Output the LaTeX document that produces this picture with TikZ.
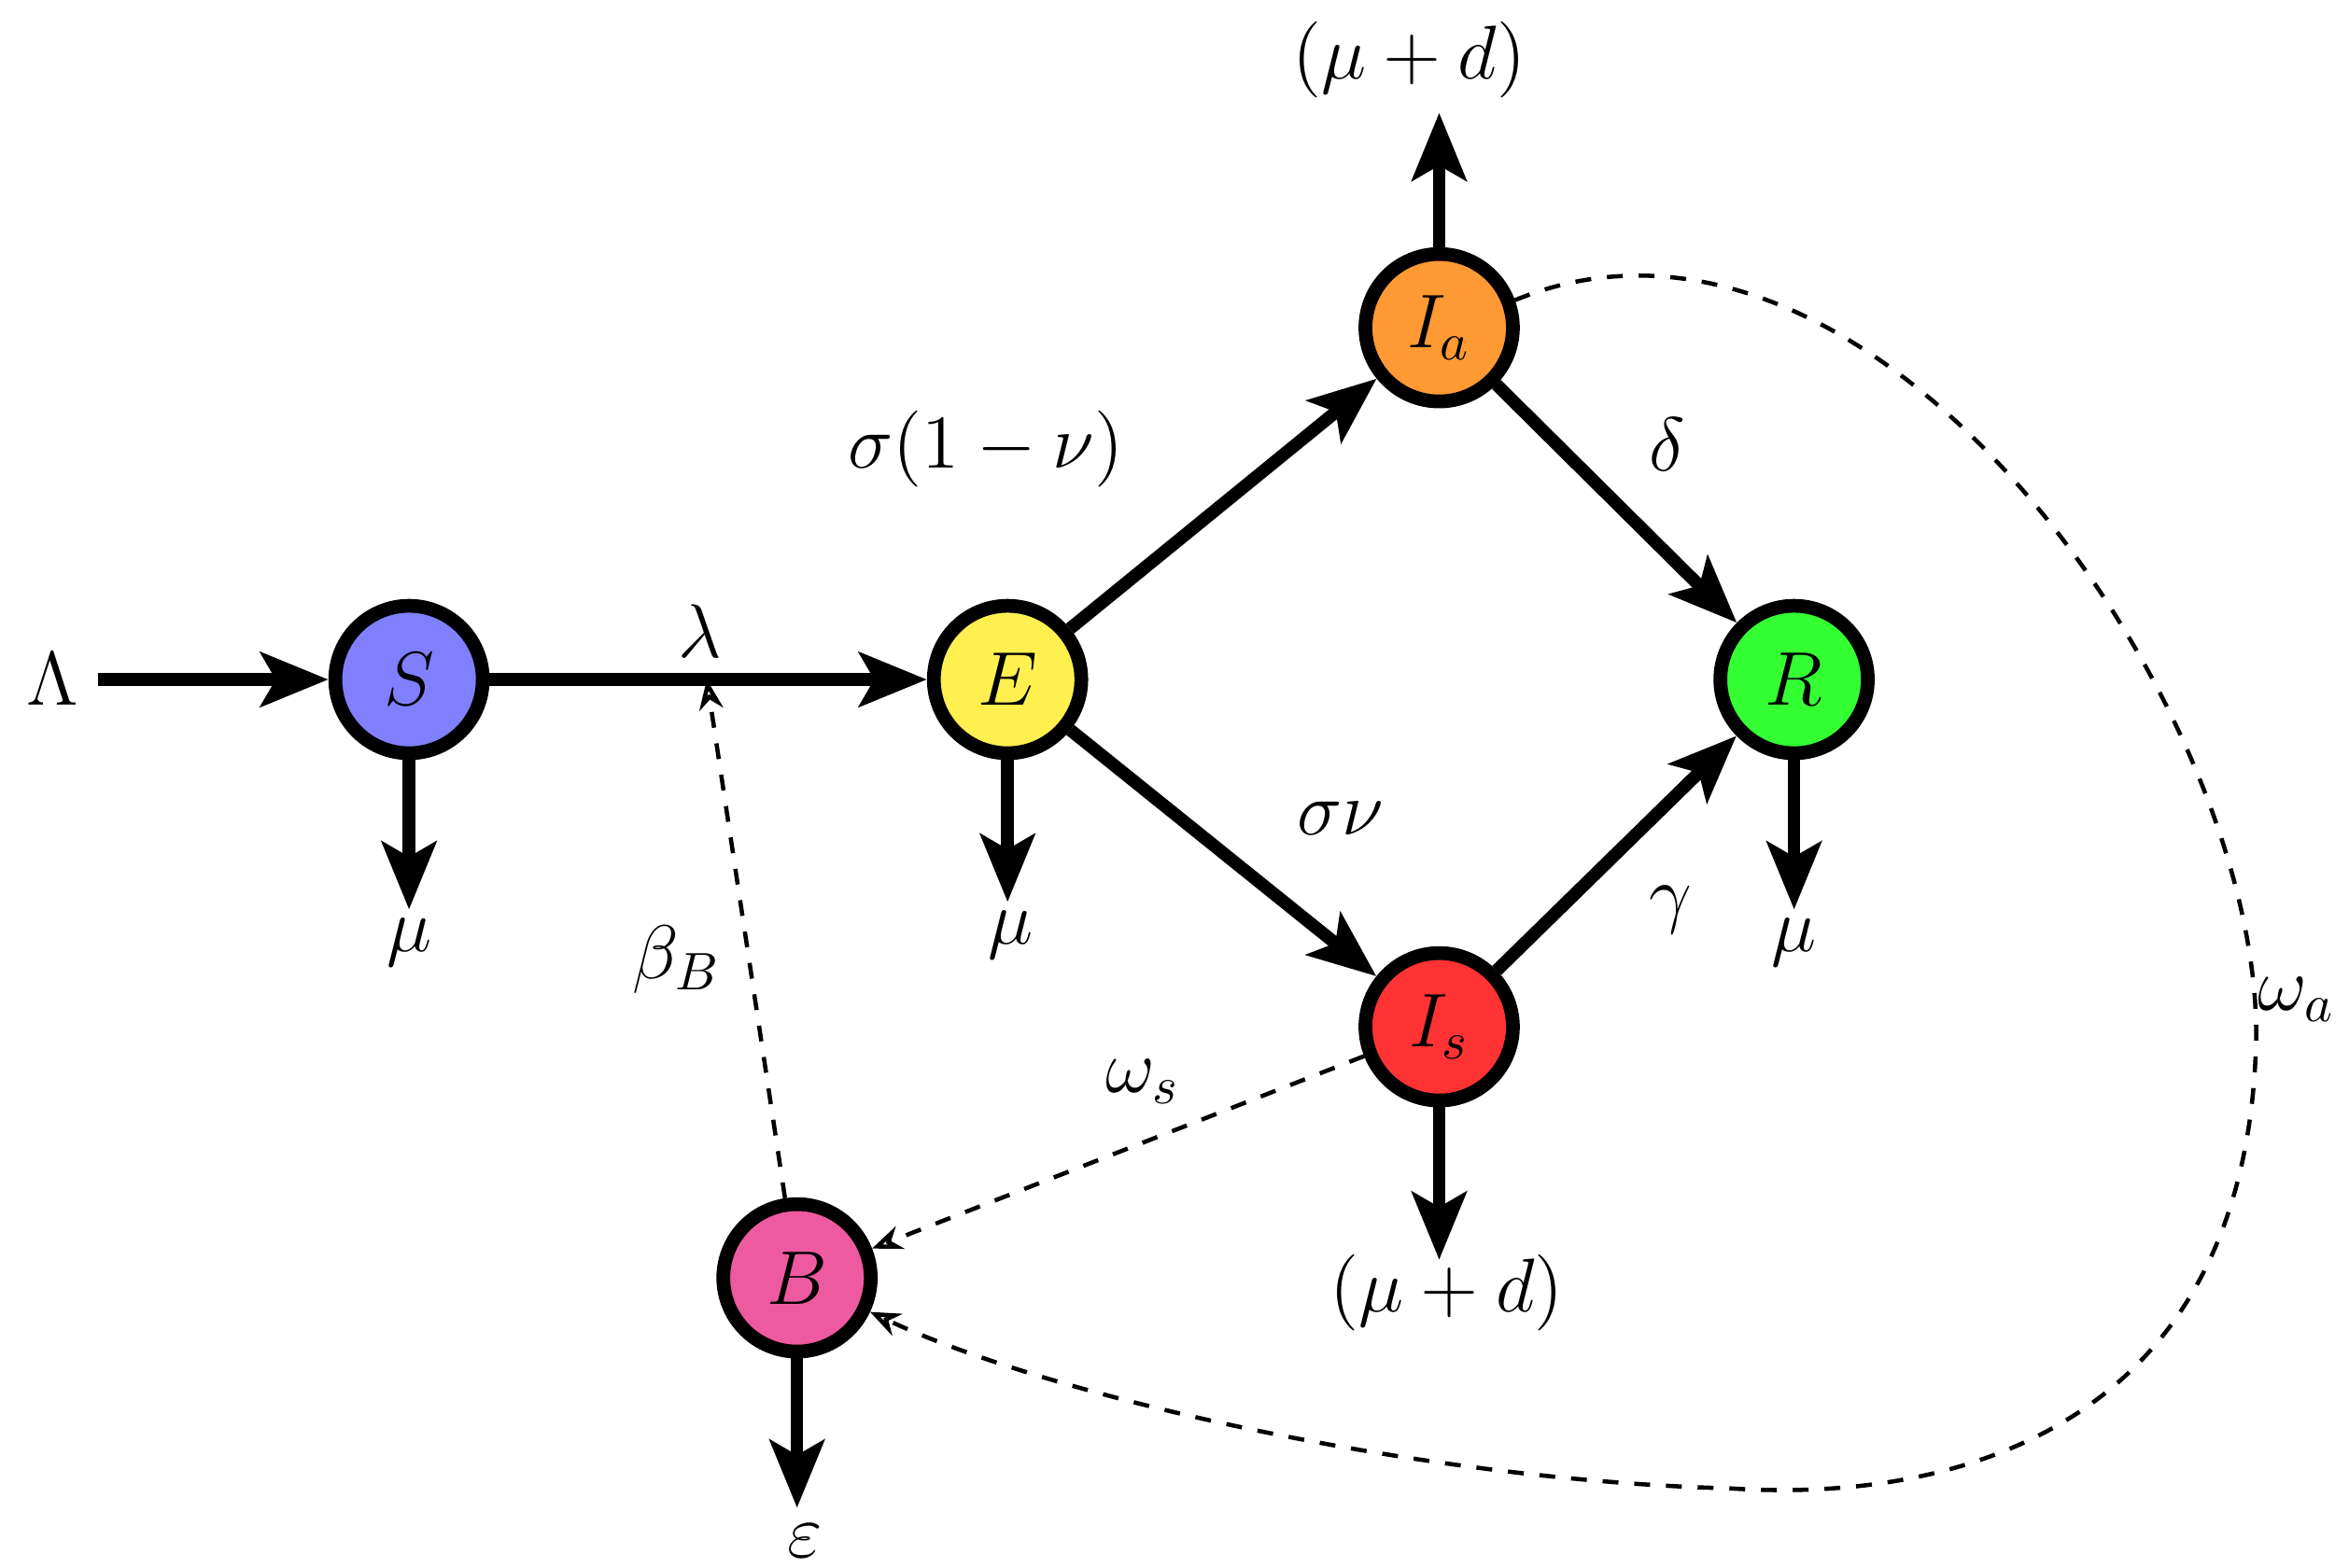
\documentclass[tikz,border=0pt]{standalone}
\usetikzlibrary{arrows.meta}
\begin{document}
\begin{tikzpicture}[x=0.01cm,y=-0.01cm,font=\fontsize{14}{16}\selectfont,
  comp/.style={circle,draw=black,line width=2.6pt,minimum size=0.98cm,inner sep=0pt},
  flow/.style={line width=2.4pt,-{Stealth[length=0.45cm,width=0.36cm,inset=0.1cm]}},
  dsh/.style={dashed,line width=0.8pt,-{Stealth[length=0.2cm,width=0.16cm,open]}},
  lab/.style={inner sep=1pt}]
\useasboundingbox (0,0) rectangle (1562,1043);
\definecolor{cS}{HTML}{8080FF}\definecolor{cE}{HTML}{FFF050}\definecolor{cIa}{HTML}{FF9933}
\definecolor{cR}{HTML}{33FF33}\definecolor{cIs}{HTML}{FF3333}\definecolor{cB}{HTML}{EE5AA0}
\node[comp,fill=cS] (S) at (272,452) {$S$};
\node[comp,fill=cE] (E) at (670,452) {$E$};
\node[comp,fill=cIa] (Ia) at (957,218) {$I_a$};
\node[comp,fill=cR] (R) at (1193,452) {$R$};
\node[comp,fill=cIs] (Is) at (957,683) {$I_s$};
\node[comp,fill=cB] (B) at (530,850) {$B$};
\node[lab] (L) at (35,452) {$\Lambda$};
\node[lab] (muS) at (272,627) {$\mu$};
\node[lab] (muE) at (672,622) {$\mu$};
\node[lab] (muR) at (1193,627) {$\mu$};
\node[lab] (eps) at (535,1025) {$\varepsilon$};
\node[lab] (dIa) at (937,40) {$(\mu+d)$};
\node[lab] (dIs) at (962,860) {$(\mu+d)$};
\coordinate (lam) at (470,452);
\coordinate (Lst) at (65,452);
\coordinate (mSe) at (272,605);
\coordinate (mEe) at (670,600);
\coordinate (mRe) at (1193,605);
\coordinate (epe) at (530,1003);
\coordinate (Iae) at (957,75);
\coordinate (Ise) at (957,838);
\draw[flow] (Lst) -- (S);
\draw[flow] (S) -- (E) node[lab,pos=0.48,above=2pt] {$\lambda$};
\draw[flow] (E) -- (Ia) node[lab,pos=0.35,above left=8pt] {$\sigma(1-\nu)$};
\draw[flow] (E) -- (Is) node[lab,pos=0.6,above right=6pt] {$\sigma\nu$};
\draw[flow] (Ia) -- (R) node[lab,pos=0.5,above right=4pt] {$\delta$};
\draw[flow] (Is) -- (R) node[lab,pos=0.5,below right=4pt] {$\gamma$};
\draw[flow] (S) -- (mSe);
\draw[flow] (E) -- (mEe);
\draw[flow] (R) -- (mRe);
\draw[flow] (B) -- (epe);
\draw[flow] (Ia) -- (Iae);
\draw[flow] (Is) -- (Ise);
\draw[dsh] (B) -- (lam) node[lab,pos=0.46,left=4pt] {$\beta_B$};
\draw[dsh] (Is) -- (B) node[lab,pos=0.45,above=6pt] {$\omega_s$};
\draw[dsh] (Ia.20) .. controls (1250,100) and (1510,480) .. (1500,700)
  .. controls (1490,950) and (1300,1000) .. (1150,990)
  .. controls (950,985) and (700,930) .. (B.-25);
\node[lab] at (1527,665) {$\omega_a$};
\end{tikzpicture}
\end{document}
